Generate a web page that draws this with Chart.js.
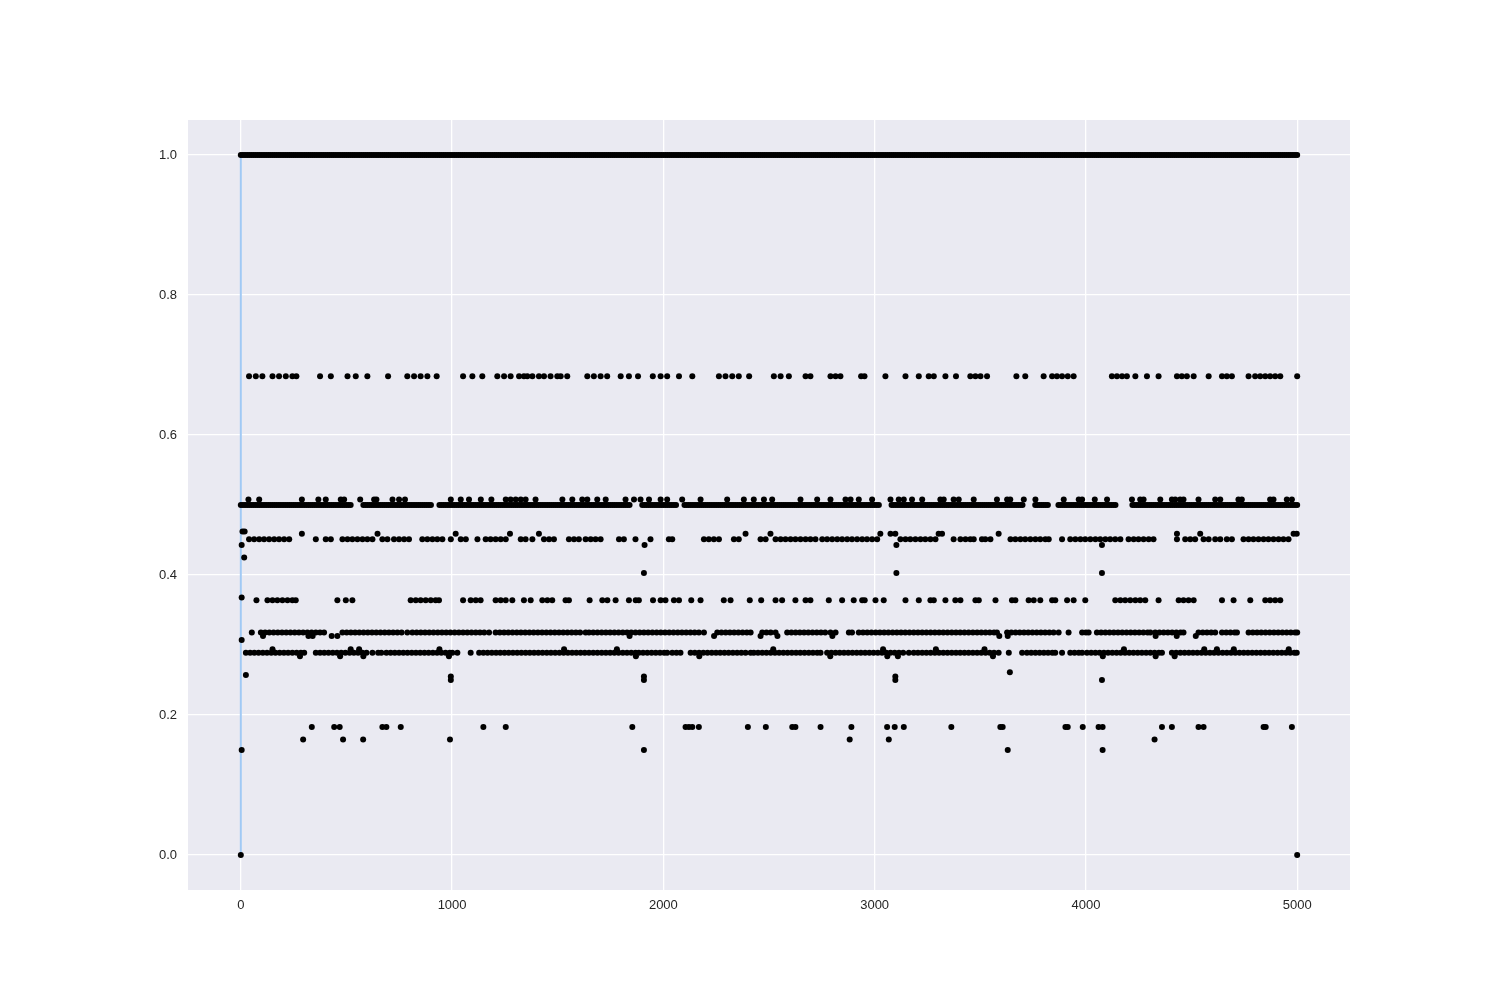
<!DOCTYPE html>
<html>
<head>
<meta charset="utf-8">
<script src="https://cdn.jsdelivr.net/npm/chart.js@4.4.1/dist/chart.umd.min.js"></script>
<style>
  html, body { margin: 0; padding: 0; background: #ffffff; }
  #wrap { width: 1500px; height: 1000px; }
</style>
</head>
<body>
<div id="wrap"><canvas id="c" width="1500" height="1000"></canvas></div>
<script>
// ---- tick labels ----
const xTicks = [0, 1000, 2000, 3000, 4000, 5000];
const xTickLabels = ['0', '1000', '2000', '3000', '4000', '5000'];
const yTicks = [0, 0.2, 0.4, 0.6, 0.8, 1.0];
const yTickLabels = ['0.0', '0.2', '0.4', '0.6', '0.8', '1.0'];

// ---- series: x positions of the dots at each y level ----
const x_1000 = [
0,10,20,30,40,50,60,70,80,90,100,110,120,130,140,150,160,170,180,190,200,210,220,230,240,250,260,270,280,290,300,310,320,330,340,350,360,370,380,390,400,410,420,430,440,450,460,470,480,490,500,510,520,530,540,550,560,570,580,590,600,610,620,630,640,650,660,670,680,690,700,710,720,730,740,750,760,770,780,790,800,810,820,830,840,850,860,870,880,890,900,910,920,930,940,950,960,970,980,990,
1000,1010,1020,1030,1040,1050,1060,1070,1080,1090,1100,1110,1120,1130,1140,1150,1160,1170,1180,1190,1200,1210,1220,1230,1240,1250,1260,1270,1280,1290,1300,1310,1320,1330,1340,1350,1360,1370,1380,1390,1400,1410,1420,1430,1440,1450,1460,1470,1480,1490,1500,1510,1520,1530,1540,1550,1560,1570,1580,1590,1600,1610,1620,1630,1640,1650,1660,1670,1680,1690,1700,1710,1720,1730,1740,1750,1760,1770,1780,1790,1800,1810,1820,1830,1840,1850,1860,1870,1880,1890,1900,1910,1920,1930,1940,1950,1960,1970,1980,1990,
2000,2010,2020,2030,2040,2050,2060,2070,2080,2090,2100,2110,2120,2130,2140,2150,2160,2170,2180,2190,2200,2210,2220,2230,2240,2250,2260,2270,2280,2290,2300,2310,2320,2330,2340,2350,2360,2370,2380,2390,2400,2410,2420,2430,2440,2450,2460,2470,2480,2490,2500,2510,2520,2530,2540,2550,2560,2570,2580,2590,2600,2610,2620,2630,2640,2650,2660,2670,2680,2690,2700,2710,2720,2730,2740,2750,2760,2770,2780,2790,2800,2810,2820,2830,2840,2850,2860,2870,2880,2890,2900,2910,2920,2930,2940,2950,2960,2970,2980,2990,
3000,3010,3020,3030,3040,3050,3060,3070,3080,3090,3100,3110,3120,3130,3140,3150,3160,3170,3180,3190,3200,3210,3220,3230,3240,3250,3260,3270,3280,3290,3300,3310,3320,3330,3340,3350,3360,3370,3380,3390,3400,3410,3420,3430,3440,3450,3460,3470,3480,3490,3500,3510,3520,3530,3540,3550,3560,3570,3580,3590,3600,3610,3620,3630,3640,3650,3660,3670,3680,3690,3700,3710,3720,3730,3740,3750,3760,3770,3780,3790,3800,3810,3820,3830,3840,3850,3860,3870,3880,3890,3900,3910,3920,3930,3940,3950,3960,3970,3980,3990,
4000,4010,4020,4030,4040,4050,4060,4070,4080,4090,4100,4110,4120,4130,4140,4150,4160,4170,4180,4190,4200,4210,4220,4230,4240,4250,4260,4270,4280,4290,4300,4310,4320,4330,4340,4350,4360,4370,4380,4390,4400,4410,4420,4430,4440,4450,4460,4470,4480,4490,4500,4510,4520,4530,4540,4550,4560,4570,4580,4590,4600,4610,4620,4630,4640,4650,4660,4670,4680,4690,4700,4710,4720,4730,4740,4750,4760,4770,4780,4790,4800,4810,4820,4830,4840,4850,4860,4870,4880,4890,4900,4910,4920,4930,4940,4950,4960,4970,4980,4990,5000];

const x_0684 = [39,71,102,150,181,213,244,263,375,426,505,544,599,697,788,820,851,883,927,1052,1096,1143,1214,1246,1277,1317,1340,1356,1380,1411,1435,1466,1498,1514,1545,1640,1671,1703,1734,1798,1837,1880,1950,1987,2018,2074,2137,2263,2294,2326,2357,2406,2523,2555,2594,2673,2696,2791,2815,2838,2936,2952,3051,3146,3209,3256,3280,3335,3385,3453,3477,3501,3532,3671,3713,3800,3840,3863,3887,3914,3942,4123,4147,4171,4194,4234,4289,4344,4431,4454,4478,4510,4581,4644,4667,4691,4770,4801,4825,4849,4872,4896,4920,5000];

const x_0508 = [36,87,289,367,402,473,489,565,631,642,718,749,777,994,1041,1080,1136,1186,1254,1277,1301,1325,1348,1395,1522,1569,1616,1640,1687,1727,1821,1861,1892,1932,1987,2018,2089,2176,2302,2381,2428,2476,2515,2649,2728,2791,2862,2886,2925,2988,3075,3114,3138,3177,3225,3311,3327,3374,3398,3469,3579,3627,3642,3706,3761,3895,3966,3982,4042,4100,4218,4257,4273,4352,4407,4423,4446,4462,4533,4612,4636,4722,4738,4872,4888,4951,4975];

const x_0500 = [
0,10,20,30,40,50,60,70,80,90,100,110,120,130,140,150,160,170,180,190,200,210,220,230,240,250,260,270,280,290,300,310,320,330,340,350,360,370,380,390,400,410,420,430,440,450,460,470,480,490,500,510,520,
580,590,600,610,620,630,640,650,660,670,680,690,700,710,720,730,740,750,760,770,780,790,800,810,820,830,840,850,860,870,880,890,900,
940,950,960,970,980,990,1000,1010,1020,1030,1040,1050,1060,1070,1080,1090,1100,1110,1120,1130,1140,1150,1160,1170,1180,1190,1200,1210,1220,1230,1240,1250,1260,1270,1280,1290,1300,1310,1320,1330,1340,1350,1360,1370,1380,1390,1400,1410,1420,1430,1440,1450,1460,1470,1480,1490,1500,1510,1520,1530,1540,1550,1560,1570,1580,1590,1600,1610,1620,1630,1640,1650,1660,1670,1680,1690,1700,1710,1720,1730,1740,1750,1760,1770,1780,1790,1800,1810,1820,1830,1840,
1900,1910,1920,1930,1940,1950,1960,1970,1980,1990,2000,2010,2020,2030,2040,2050,2060,
2100,2110,2120,2130,2140,2150,2160,2170,2180,2190,2200,2210,2220,2230,2240,2250,2260,2270,2280,2290,2300,2310,2320,2330,2340,2350,2360,2370,2380,2390,2400,2410,2420,2430,2440,2450,2460,2470,2480,2490,2500,2510,2520,2530,2540,2550,2560,2570,2580,2590,2600,2610,2620,2630,2640,2650,2660,2670,2680,2690,2700,2710,2720,2730,2740,2750,2760,2770,2780,2790,2800,2810,2820,2830,2840,2850,2860,2870,2880,2890,2900,2910,2920,2930,2940,2950,2960,2970,2980,2990,3000,3010,3020,
3080,3090,3100,3110,3120,3130,3140,3150,3160,3170,3180,3190,3200,3210,3220,3230,3240,3250,3260,3270,3280,3290,3300,3310,3320,3330,3340,3350,3360,3370,3380,3390,3400,3410,3420,3430,3440,3450,3460,3470,3480,3490,3500,3510,3520,3530,3540,3550,3560,3570,3580,3590,3600,3610,3620,3630,3640,3650,3660,3670,3680,3690,3700,
3760,3770,3780,3790,3800,3810,3820,
3870,3880,3890,3900,3910,3920,3930,3940,3950,3960,3970,3980,3990,4000,4010,4020,4030,4040,4050,4060,4070,4080,4090,4100,4110,4120,4130,4140,
4220,4230,4240,4250,4260,4270,4280,4290,4300,4310,4320,4330,4340,4350,4360,4370,4380,4390,4400,4410,4420,4430,4440,4450,4460,4470,4480,4490,4500,4510,4520,4530,4540,4550,4560,4570,4580,4590,4600,4610,4620,4630,4640,4650,4660,4670,4680,4690,4700,4710,4720,4730,4740,4750,4760,4770,4780,4790,4800,4810,4820,4830,4840,4850,4860,4870,4880,4890,4900,4910,4920,4930,4940,4950,4960,4970,4980,4990,5000];

const x_0462 = [8,18];
const x_0459 = [289,647,1017,1274,1411,2389,2507,3027,3075,3098,3303,3319,3587,4431,4541,4983,4998];

const x_0451 = [39,63,87,110,134,158,181,205,229,355,402,426,481,505,528,552,576,599,623,670,694,725,749,773,796,859,883,907,930,954,994,1041,1065,1120,1159,1182,1206,1230,1254,1325,1348,1380,1435,1459,1482,1553,1577,1600,1632,1656,1679,1703,1790,1813,1868,1939,2026,2042,2192,2215,2239,2263,2334,2357,2460,2484,2531,2555,2578,2602,2625,2649,2673,2696,2720,2752,2775,2799,2823,2846,2870,2893,2917,2941,2964,2988,3012,3122,3146,3169,3193,3217,3240,3264,3288,3374,3406,3430,3453,3469,3508,3524,3548,3643,3666,3690,3713,3737,3761,3784,3808,3824,3887,3926,3950,3974,3997,4021,4045,4068,4092,4115,4139,4163,4202,4226,4249,4273,4297,4320,4431,4470,4494,4517,4557,4581,4612,4636,4667,4691,4746,4770,4793,4817,4841,4864,4888,4912,4935,4959];

const x_0443 = [4,1911,3103,4076];
const x_0425 = [16];
const x_0403 = [1908,3103,4076];
const x_0368 = [4];

const x_0364 = [74,126,150,173,197,221,244,260,457,497,528,804,828,851,875,899,922,938,1052,1088,1112,1135,1206,1230,1254,1285,1340,1372,1427,1451,1474,1537,1553,1651,1711,1735,1774,1837,1869,1884,1951,1987,2010,2050,2074,2132,2176,2286,2318,2409,2463,2531,2562,2625,2673,2696,2783,2846,2901,2941,2953,3004,3043,3146,3209,3264,3280,3335,3382,3406,3477,3493,3572,3650,3666,3729,3753,3784,3840,3855,3911,3942,3997,4139,4163,4186,4210,4234,4257,4281,4344,4439,4462,4486,4510,4644,4699,4778,4849,4872,4896,4920];

const x_0318 = [52,95,115,135,155,175,195,215,235,255,275,295,315,335,355,375,394,481,501,521,541,561,581,601,621,641,661,681,701,721,741,761,788,812,832,852,872,892,912,932,952,972,992,1012,1032,1052,1072,1092,1112,1132,1152,1175,1206,1226,1246,1266,1286,1306,1326,1346,1366,1386,1406,1426,1446,1466,1486,1506,1526,1546,1566,1586,1606,1632,1648,1668,1688,1708,1728,1748,1768,1788,1808,1828,1848,1868,1888,1908,1928,1948,1968,1988,2008,2028,2048,2068,2088,2108,2128,2148,2168,2192,2255,2275,2295,2315,2335,2355,2375,2395,2413,2468,2488,2508,2531,2586,2606,2626,2646,2666,2686,2706,2726,2746,2766,2791,2815,2878,2893,2925,2945,2965,2985,3005,3025,3045,3065,3085,3105,3125,3145,3165,3185,3205,3225,3245,3265,3285,3305,3325,3345,3365,3385,3405,3425,3445,3465,3485,3505,3525,3545,3565,3579,3627,3647,3667,3687,3707,3727,3747,3767,3787,3807,3827,3847,3871,3918,3982,4000,4013,4052,4072,4092,4112,4132,4152,4172,4192,4212,4232,4252,4272,4292,4305,4328,4348,4368,4388,4408,4428,4448,4462,4533,4553,4573,4593,4612,4644,4664,4684,4704,4715,4770,4790,4810,4830,4850,4870,4890,4910,4930,4950,4970,4990,5000];

const x_0313 = [105,320,340,430,457,1840,2240,2460,2540,2800,3590,3630,4330,4430,4520];
const x_0307 = [4];
const x_0294 = [150,520,560,940,1530,1780,2520,3040,3290,3520,4180,4560,4620,4700,4960];

const x_0289 = [24,44,64,84,104,124,144,164,184,204,224,244,264,284,300,355,375,395,415,435,455,475,495,515,535,555,575,595,623,650,665,689,709,729,749,769,789,809,829,849,869,889,909,929,949,969,989,1001,1025,1088,1128,1148,1168,1188,1208,1228,1248,1268,1288,1308,1328,1348,1368,1388,1408,1428,1448,1468,1488,1508,1528,1548,1568,1588,1608,1628,1648,1668,1688,1708,1728,1748,1768,1788,1808,1828,1848,1868,1884,1904,1924,1944,1964,1984,2004,2018,2042,2062,2081,2129,2149,2169,2189,2209,2229,2249,2269,2289,2309,2329,2349,2369,2389,2413,2428,2448,2468,2488,2508,2528,2548,2568,2588,2608,2628,2648,2668,2688,2708,2728,2744,2775,2795,2815,2835,2855,2875,2895,2915,2935,2955,2975,2995,3015,3035,3055,3075,3095,3115,3135,3162,3185,3205,3225,3245,3265,3285,3305,3325,3345,3365,3385,3405,3425,3445,3465,3485,3505,3525,3545,3565,3587,3635,3698,3721,3741,3761,3781,3801,3821,3841,3855,3887,3926,3946,3966,3982,4005,4025,4045,4065,4085,4105,4125,4145,4165,4185,4205,4225,4245,4265,4285,4305,4325,4345,4360,4407,4427,4447,4467,4487,4507,4527,4547,4567,4587,4607,4627,4647,4667,4687,4707,4727,4747,4767,4787,4807,4827,4847,4867,4887,4907,4927,4947,4967,4987,4998];

const x_0284 = [280,470,580,985,1870,2170,2790,3060,3110,3560,4080,4330,4420];
const x_0261 = [3640];
const x_0257 = [24];
const x_0255 = [994,1908,3098];
const x_0250 = [994,1908,3098,4076];
const x_0183 = [336,442,468,670,689,757,1148,1254,1853,2105,2121,2137,2168,2400,2485,2610,2625,2744,2890,3059,3095,3138,3363,3595,3606,3903,3914,3985,4060,4079,4360,4407,4533,4557,4841,4851,4975];
const x_0165 = [295,484,579,990,2882,3067,4325];
const x_0150 = [4,1908,3630,4079];
const x_0000 = [0,5000];

// blue line series
const lineX = [0, 0];
const lineY = [0, 1];

// level -> x list pairs
const levels = [
  [1.000, x_1000], [0.684, x_0684], [0.508, x_0508], [0.500, x_0500],
  [0.462, x_0462], [0.459, x_0459], [0.451, x_0451], [0.443, x_0443],
  [0.425, x_0425], [0.403, x_0403], [0.368, x_0368], [0.364, x_0364],
  [0.318, x_0318], [0.313, x_0313], [0.307, x_0307], [0.294, x_0294],
  [0.289, x_0289], [0.284, x_0284], [0.261, x_0261], [0.257, x_0257],
  [0.255, x_0255], [0.250, x_0250], [0.183, x_0183], [0.165, x_0165],
  [0.150, x_0150], [0.000, x_0000]
];

const points = [];
levels.forEach(([y, xs]) => xs.forEach(x => points.push({ x: x, y: y })));
const linePts = lineX.map((x, i) => ({ x: x, y: lineY[i] }));

const bgPlugin = {
  id: 'bg',
  beforeDraw(chart) {
    const { ctx, chartArea: a } = chart;
    ctx.save();
    ctx.fillStyle = '#ffffff';
    ctx.fillRect(0, 0, chart.width, chart.height);
    ctx.fillStyle = '#EAEAF2';
    ctx.fillRect(a.left, a.top, a.right - a.left, a.bottom - a.top);
    ctx.restore();
  }
};

const font = { family: '"Liberation Sans", Arial, sans-serif', size: 13 };

new Chart(document.getElementById('c'), {
  type: 'scatter',
  data: {
    datasets: [
      {
        type: 'scatter',
        data: points,
        pointRadius: 3,
        pointHoverRadius: 3,
        pointBackgroundColor: '#000000',
        pointBorderWidth: 0,
        order: 0
      },
      {
        type: 'line',
        data: linePts,
        borderColor: '#a1c9f4',
        borderWidth: 2,
        pointRadius: 0,
        fill: false,
        showLine: true,
        order: 10
      }
    ]
  },
  options: {
    responsive: false,
    animation: false,
    devicePixelRatio: 1,
    layout: { padding: { left: 0, top: 120, right: 150, bottom: 0 } },
    plugins: { legend: { display: false }, tooltip: { enabled: false } },
    scales: {
      x: {
        type: 'linear',
        min: -250,
        max: 5250,
        afterFit(s) { s.height = 110; },
        afterBuildTicks(s) { s.ticks = xTicks.map(v => ({ value: v })); },
        grid: { color: '#ffffff', lineWidth: 1.3, drawTicks: false },
        border: { display: false },
        ticks: {
          font: font,
          color: '#262626',
          padding: 8,
          maxRotation: 0,
          callback: (v) => { const i = xTicks.indexOf(v); return i >= 0 ? xTickLabels[i] : ''; }
        }
      },
      y: {
        type: 'linear',
        min: -0.05,
        max: 1.05,
        afterFit(s) { s.width = 188; },
        afterBuildTicks(s) { s.ticks = yTicks.map(v => ({ value: v })); },
        grid: { color: '#ffffff', lineWidth: 1.3, drawTicks: false },
        border: { display: false },
        ticks: {
          font: font,
          color: '#262626',
          padding: 11,
          callback: (v) => { const i = yTicks.findIndex(t => Math.abs(t - v) < 1e-9); return i >= 0 ? yTickLabels[i] : ''; }
        }
      }
    }
  },
  plugins: [bgPlugin]
});
</script>
</body>
</html>
